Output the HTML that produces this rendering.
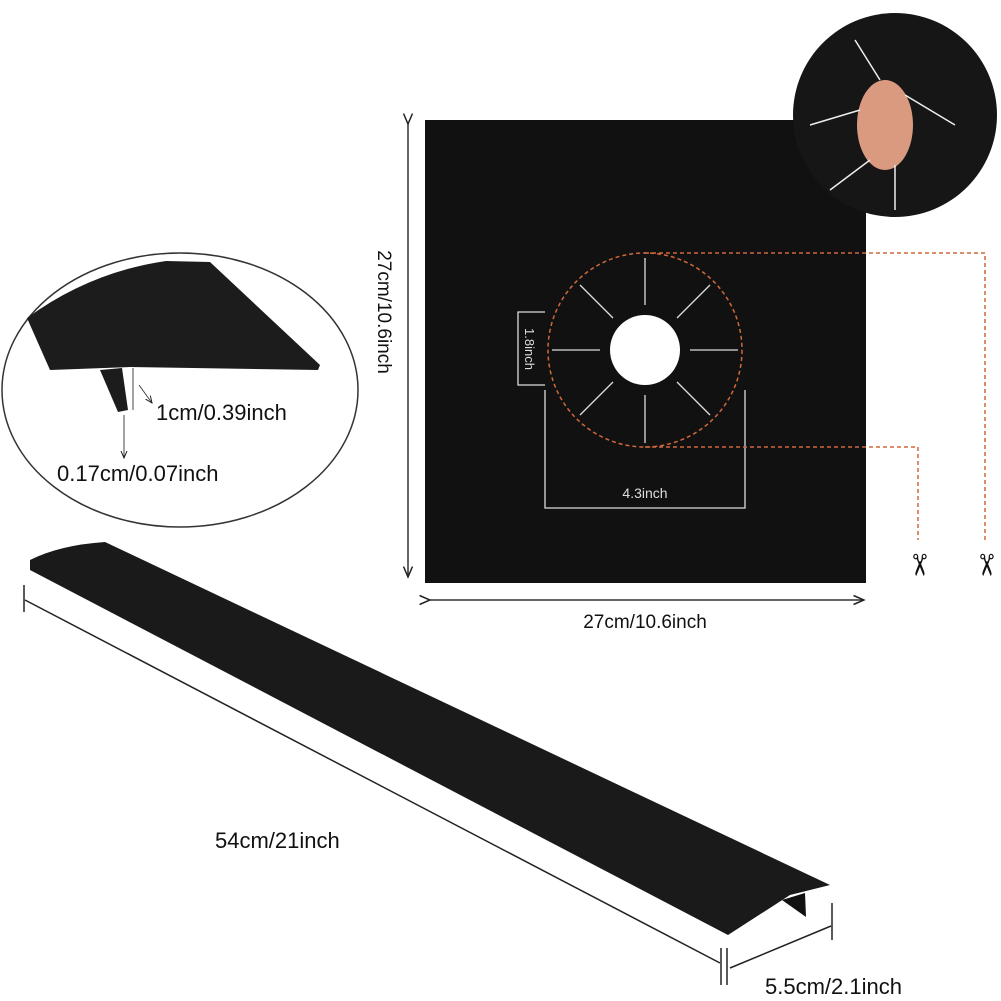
<!DOCTYPE html>
<html><head><style>body{margin:0;background:#fff}svg{display:block}text{font-family:"Liberation Sans",sans-serif}</style></head><body>
<svg width="1001" height="1001" viewBox="0 0 1001 1001">
<defs><marker id="a" markerWidth="8" markerHeight="8" refX="7" refY="4" orient="auto"><path d="M0,1 L7,4 L0,7" fill="none" stroke="#222" stroke-width="1"/></marker></defs>
<ellipse cx="180" cy="390" rx="178" ry="137" fill="#fff" stroke="#333" stroke-width="1.5"/>
<path d="M27,318 Q90,272 166,261 L210,262 L320,365 L318,370 L130,367 L50,370 Z" fill="#1c1c1c"/>
<path d="M100,370 L122,368 L128,410 L118,412 Z" fill="#1c1c1c"/>
<line x1="133" y1="368" x2="133" y2="410" stroke="#444"/>
<line x1="139" y1="385" x2="152" y2="403" stroke="#444" marker-end="url(#a)"/>
<line x1="124" y1="415" x2="124" y2="458" stroke="#444" marker-end="url(#a)"/>
<text x="156" y="420" font-size="22" fill="#111">1cm/0.39inch</text>
<text x="57" y="481" font-size="22" fill="#111">0.17cm/0.07inch</text>
<path d="M30,560 Q60,545 105,542 L830,885 L790,895 L728,935 L30,570 Z" fill="#1a1a1a"/>
<path d="M782,900 L805,893 L806,917 Z" fill="#111"/>
<g stroke="#222" stroke-width="1.5" fill="none">
<line x1="25" y1="600" x2="720" y2="963"/><line x1="24" y1="585" x2="24" y2="612"/>
<line x1="721" y1="948" x2="721" y2="985"/><line x1="727" y1="948" x2="727" y2="985"/>
<line x1="730" y1="968" x2="831" y2="926"/><line x1="832" y1="903" x2="832" y2="940"/>
</g>
<text x="215" y="848" font-size="22" fill="#111">54cm/21inch</text>
<text x="765" y="994" font-size="22" fill="#111">5.5cm/2.1inch</text>
<rect x="425" y="120" width="441" height="463" fill="#111"/>
<g stroke="#333" stroke-width="1.5" fill="none">
<line x1="408" y1="124" x2="408" y2="577" marker-end="url(#a)" marker-start="url(#a)"/>
<line x1="430" y1="600" x2="864" y2="600" marker-end="url(#a)" marker-start="url(#a)"/>
</g>
<text transform="translate(378,312) rotate(90)" font-size="19" fill="#111" text-anchor="middle">27cm/10.6inch</text>
<text x="645" y="628" font-size="19" fill="#111" text-anchor="middle">27cm/10.6inch</text>
<g stroke="#ddd" stroke-width="1.3">
<line x1="645" y1="305" x2="645" y2="258"/><line x1="645" y1="395" x2="645" y2="443"/>
<line x1="600" y1="350" x2="552" y2="350"/><line x1="690" y1="350" x2="738" y2="350"/>
<line x1="613" y1="318" x2="580" y2="285"/><line x1="677" y1="318" x2="710" y2="285"/>
<line x1="613" y1="382" x2="580" y2="415"/><line x1="677" y1="382" x2="710" y2="415"/>
<path d="M545,312 L518,312 L518,385 L545,385 M545,390 L545,508 L745,508 L745,390" fill="none"/>
</g>
<circle cx="645" cy="350" r="35" fill="#fff"/>
<text transform="translate(525,349) rotate(90)" font-size="13" fill="#ddd" text-anchor="middle">1.8inch</text>
<text x="645" y="498" font-size="14" fill="#ddd" text-anchor="middle">4.3inch</text>
<g stroke="#d0683a" stroke-width="1.5" stroke-dasharray="4,3" fill="none">
<circle cx="645" cy="350" r="97"/>
<path d="M645,253 L985,253 L985,540"/>
<path d="M645,447 L918,447 L918,540"/>
</g>
<text transform="translate(909,565) rotate(90)" font-size="30" text-anchor="middle" fill="#111">✂</text>
<text transform="translate(976,565) rotate(90)" font-size="30" text-anchor="middle" fill="#111">✂</text>
<circle cx="895" cy="115" r="102" fill="#161616"/>
<ellipse cx="885" cy="125" rx="28" ry="45" fill="#d99a80"/>
<g stroke="#eee" stroke-width="1.5"><line x1="880" y1="80" x2="855" y2="40"/><line x1="905" y1="95" x2="955" y2="125"/><line x1="870" y1="160" x2="830" y2="190"/><line x1="895" y1="165" x2="895" y2="210"/><line x1="860" y1="110" x2="810" y2="125"/></g>
</svg>
</body></html>
